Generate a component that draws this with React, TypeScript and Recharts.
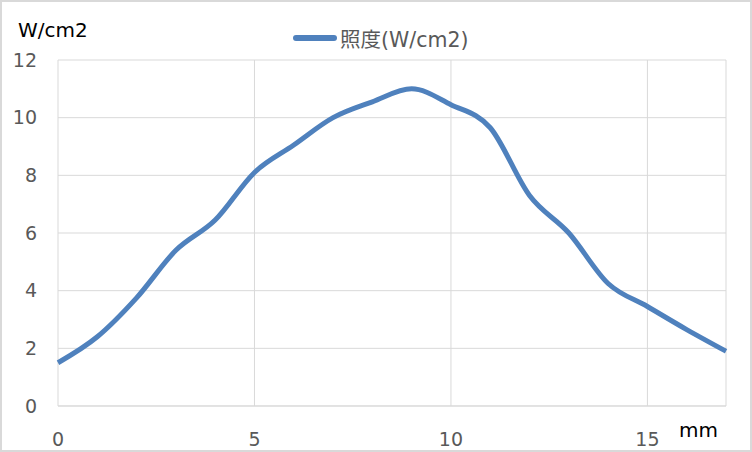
import React from "react"
import { LineChart, Line, XAxis, YAxis, CartesianGrid, Legend } from "recharts"

// 位置 (mm) と照度 (W/cm2)
const positions = [0, 1, 2, 3, 4, 5, 6, 7, 8, 9, 10, 11, 12, 13, 14, 15, 16, 17]
const irradiance = [1.5, 2.4, 3.75, 5.4, 6.45, 8.1, 9.05, 10.0, 10.55, 11.0, 10.45, 9.65, 7.3, 6.0, 4.25, 3.45, 2.65, 1.9]
const xTicks = [0, 5, 10, 15]
const yTicks = [0, 2, 4, 6, 8, 10, 12]

const SERIES = "照度(W/cm2)"
const BLUE = "#4F81BD"
const FONT = "'DejaVu Sans', 'Noto Sans CJK JP', sans-serif"

const data = positions.map((x, i) => ({ x, [SERIES]: irradiance[i] }))

function LegendBox() {
  return (
    <div style={{ display: "flex", alignItems: "center", fontFamily: FONT, fontSize: 20.5, color: "#595959", whiteSpace: "nowrap" }}>
      <span style={{ display: "inline-block", width: 44, height: 6, borderRadius: 3, background: BLUE, marginRight: 3 }} />
      {SERIES}
    </div>
  )
}

export default function App() {
  return (
    <div style={{
      position: "absolute", left: 0, top: 0, width: 752, height: 452,
      boxSizing: "border-box", border: "2px solid #d9d9d9", background: "#fff",
    }}>
      <div style={{ position: "absolute", left: -2, top: -2 }}>
        <LineChart width={752} height={452} data={data}
          margin={{ top: 60, right: 26, bottom: 0, left: 0 }}>
          <CartesianGrid stroke="#d9d9d9" strokeWidth={1} />
          <XAxis dataKey="x" type="number" domain={[0, 17]} ticks={xTicks}
            height={46} tickLine={false} axisLine={{ stroke: "#d9d9d9" }}
            tickMargin={21} tick={{ fontSize: 19, fill: "#595959", fontFamily: FONT }} />
          <YAxis type="number" domain={[0, 12]} ticks={yTicks} width={58}
            tickLine={false} axisLine={false} tickSize={0} tickMargin={21}
            tick={{ fontSize: 19, fill: "#595959", fontFamily: FONT }} />
          <Legend layout="horizontal" verticalAlign="middle" align="center"
            wrapperStyle={{ top: 23, left: 293, width: 230, height: 26 }}
            content={() => <LegendBox />} />
          <Line type="monotone" dataKey={SERIES} stroke={BLUE} strokeWidth={5}
            dot={false} activeDot={false} isAnimationActive={false} />
        </LineChart>
      </div>
      <div style={{ position: "absolute", left: 16, top: 16, fontFamily: FONT, fontSize: 20, color: "#000" }}>W/cm2</div>
      <div style={{ position: "absolute", left: 677, top: 416, fontFamily: FONT, fontSize: 20, color: "#000" }}>mm</div>
    </div>
  )
}
